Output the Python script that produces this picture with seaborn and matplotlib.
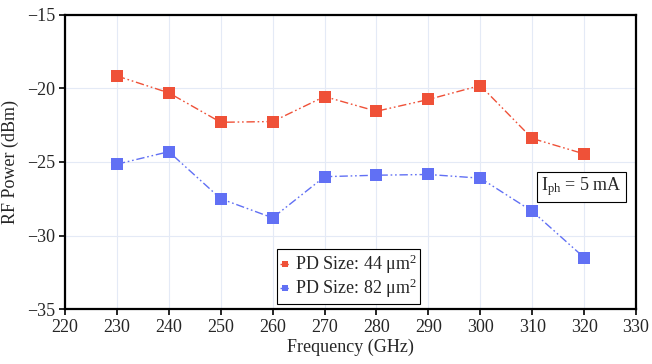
import pandas as pd
import matplotlib
matplotlib.use('Agg')
import matplotlib.pyplot as plt
import seaborn as sns

# frequencies (GHz) and RF power (dBm)
freq = [230, 240, 250, 260, 270, 280, 290, 300, 310, 320]
p44 = [-19.15, -20.3, -22.3, -22.25, -20.55, -21.55, -20.75, -19.8, -23.4, -24.45]
p82 = [-25.15, -24.3, -27.5, -28.8, -26.0, -25.9, -25.85, -26.1, -28.35, -31.5]
labels = ['PD Size: 44 $\\mathregular{\\mu m^2}$', 'PD Size: 82 $\\mathregular{\\mu m^2}$']
colors = ['#EF5138', '#6170F4']

dados = pd.DataFrame({
    'Frequency': freq * 2,
    'Power': p44 + p82,
    'Size': [labels[0]] * len(freq) + [labels[1]] * len(freq),
})

sns.set_style('whitegrid', {'grid.color': '#E4EAF6', 'axes.edgecolor': 'black'})
plt.rcParams['font.family'] = ['Liberation Serif', 'DejaVu Serif']
plt.rcParams['mathtext.fontset'] = 'stix'

fig = plt.figure(figsize=(6.52, 3.64), dpi=100)
ax = fig.add_axes([0.0997, 0.151, 0.8758, 0.808])

sns.lineplot(data=dados, x='Frequency', y='Power', hue='Size', palette=colors,
             marker='s', markersize=9, markeredgewidth=0, linewidth=1.0,
             ax=ax, legend=True)
for line in ax.lines:
    line.set_dashes((6, 2, 1.2, 2, 1.2, 2))

ax.set_xlim(220, 330)
ax.set_ylim(-35, -15)
ax.set_xticks(range(220, 331, 10))
ax.set_yticks(range(-35, -14, 5))
ax.set_yticklabels(['\u221235', '\u221230', '\u221225', '\u221220', '\u221215'])
ax.set_xlabel('Frequency (GHz)', fontsize=13, labelpad=2)
ax.set_ylabel('RF Power (dBm)', fontsize=13, labelpad=6)
ax.tick_params(axis='both', labelsize=13, direction='out', length=4, width=1.2,
               bottom=True, left=True, color='black', pad=3)
for s in ax.spines.values():
    s.set_linewidth(1.6)
    s.set_color('black')

handles, lbls = ax.get_legend_handles_labels()
leg = ax.legend(handles, lbls, loc='upper left', bbox_to_anchor=(0.371, 0.204),
                borderaxespad=0, fontsize=13, frameon=True, fancybox=False,
                handlelength=0.5, handletextpad=0.3, borderpad=0.2,
                labelspacing=0.05, markerscale=0.45)
leg.get_frame().set_edgecolor('black')
leg.get_frame().set_linewidth(0.8)
leg.get_frame().set_alpha(1)

ax.text(319.5, -26.7, '$\\mathregular{I_{ph}}$ = 5 mA', fontsize=13, ha='center', va='center',
        bbox=dict(boxstyle='square,pad=0.22', fc='white', ec='black', lw=0.8))

fig.savefig('out.png', dpi=100)
